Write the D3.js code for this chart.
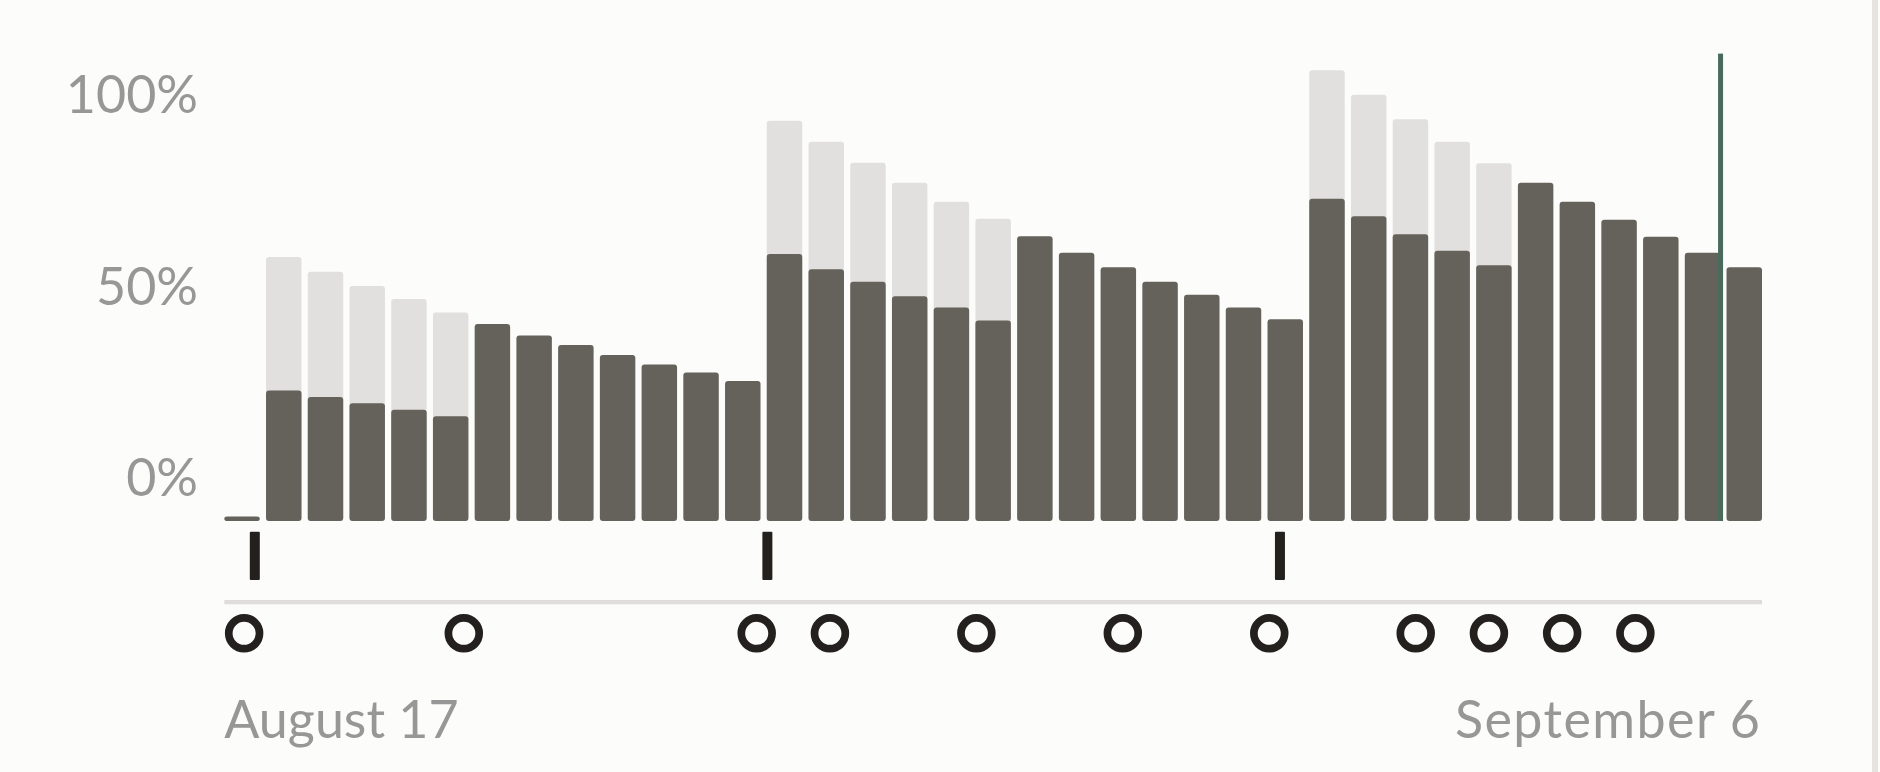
<!DOCTYPE html>
<html>
<head>
<meta charset="utf-8">
<script src="https://cdn.jsdelivr.net/npm/d3@7"></script>
<style>
  html, body { margin: 0; padding: 0; background: #fcfcfa; }
  svg { display: block; }
  text { font-family: Lato, "Noto Sans", sans-serif; }
</style>
</head>
<body>
<svg id="chart" width="1880" height="772"></svg>
<script>
// ---- data ----
const slots = d3.range(37).map(i => "slot" + i);
const totalValues = [1.2, 69.0, 65.1, 61.4, 58.0, 54.5, 51.5, 48.5, 46.0, 43.4, 40.9, 38.8, 36.6,
  104.6, 99.1, 93.6, 88.4, 83.4, 79.0, 74.4, 70.1, 66.3, 62.5, 59.1, 55.8, 52.7,
  117.8, 111.4, 105.0, 99.1, 93.5, 88.4, 83.4, 78.7, 74.3, 70.1, 66.3];
const darkValues = [1.2, 34.1, 32.4, 30.8, 29.1, 27.4, 51.5, 48.5, 46.0, 43.4, 40.9, 38.8, 36.6,
  69.8, 65.8, 62.5, 58.7, 55.8, 52.4, 74.4, 70.1, 66.3, 62.5, 59.1, 55.8, 52.7,
  84.2, 79.6, 74.9, 70.6, 66.8, 88.4, 83.4, 78.7, 74.3, 70.1, 66.3];
const yTicks = [0, 50, 100];
const doseTimes = ["2020-08-17T10:00Z", "2020-08-24T10:00Z", "2020-08-31T10:00Z"];
const circleTimes = ["2020-08-17T06:30Z", "2020-08-20T06:30Z", "2020-08-24T06:30Z", "2020-08-25T06:30Z",
  "2020-08-27T06:30Z", "2020-08-29T06:30Z", "2020-08-31T06:30Z", "2020-09-02T06:30Z",
  "2020-09-03T06:30Z", "2020-09-04T06:30Z", "2020-09-05T06:30Z"];
const nowTime = "2020-09-06T10:25Z";
const timeDomain = ["2020-08-17T00:00Z", "2020-09-07T00:00Z"];
const xLabels = ["August 17", "September 6"];

// ---- scales ----
const svg = d3.select("#chart");
const x0 = 224.3, x1 = 1762;
const x = d3.scaleBand().domain(slots).range([x0, x1]).paddingInner(0.15).paddingOuter(0);
const y = d3.scaleLinear().domain([0, 100]).range([521, 138.3]);
const t = d3.scaleUtc().domain(timeDomain.map(d => new Date(d))).range([x0, x1]);

// y labels
svg.append("g").selectAll("text").data(yTicks).join("text")
  .attr("x", 198).attr("y", d => y(d) - 25)
  .attr("text-anchor", "end")
  .attr("font-size", 52).attr("fill", "#979797")
  .text(d => d + "%");

// bars
const barData = slots.map((s, i) => ({ s, total: totalValues[i], dark: darkValues[i] }));
svg.append("g").selectAll("rect").data(barData.filter(d => d.total > d.dark)).join("rect")
  .attr("x", d => x(d.s)).attr("width", x.bandwidth())
  .attr("y", d => y(d.total)).attr("height", d => y(0) - y(d.total))
  .attr("rx", 3).attr("fill", "#e1e0de");
svg.append("g").selectAll("rect").data(barData).join("rect")
  .attr("x", d => x(d.s)).attr("width", x.bandwidth())
  .attr("y", d => y(d.dark)).attr("height", d => y(0) - y(d.dark))
  .attr("rx", 3).attr("fill", "#65615b");

// now line
svg.append("rect")
  .attr("x", t(new Date(nowTime)) - 2.5).attr("width", 5)
  .attr("y", 53.6).attr("height", y(0) - 53.6)
  .attr("fill", "#4a6b5b");

// dose ticks
svg.append("g").selectAll("rect").data(doseTimes).join("rect")
  .attr("x", d => t(new Date(d)) - 5).attr("width", 10)
  .attr("y", 531.7).attr("height", 48.3)
  .attr("rx", 1).attr("fill", "#23201d");

// axis line
svg.append("rect").attr("x", x0).attr("width", x1 - x0)
  .attr("y", 600).attr("height", 4.3).attr("fill", "#dedddb");

// circles
svg.append("g").selectAll("circle").data(circleTimes).join("circle")
  .attr("cx", d => t(new Date(d))).attr("cy", 633.3).attr("r", 15.4)
  .attr("fill", "#fcfcfa").attr("stroke", "#23201d").attr("stroke-width", 7.7);

// x labels
svg.append("text").attr("x", x0).attr("y", 738).attr("font-size", 52)
  .attr("fill", "#979797").text(xLabels[0]);
svg.append("text").attr("x", x1 - 2).attr("y", 738).attr("font-size", 52)
  .attr("text-anchor", "end").attr("fill", "#979797")
  .attr("textLength", 305).attr("lengthAdjust", "spacing").text(xLabels[1]);

// right border
svg.append("rect").attr("x", 1872).attr("width", 6).attr("y", 0).attr("height", 772).attr("fill", "#e6e4e0");
</script>
</body>
</html>
